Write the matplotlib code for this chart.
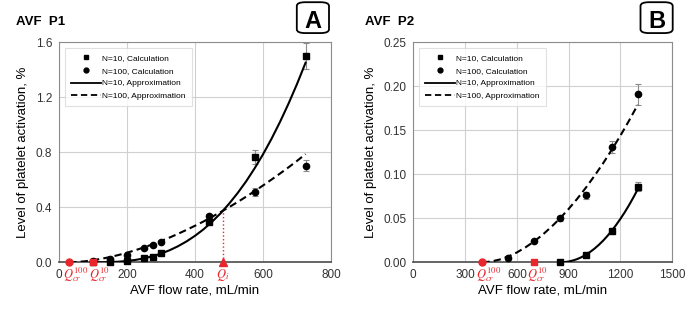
import matplotlib
matplotlib.use("Agg")
import matplotlib.pyplot as plt
import matplotlib.transforms as mtransforms
from matplotlib.patches import FancyBboxPatch

plt.rcParams["font.family"] = ["Liberation Sans", "DejaVu Sans"]
plt.rcParams["mathtext.fontset"] = "stix"

RED = "#e8262b"

# ---- Panel A (AVF P1) ----
a_q = [100, 150, 200, 250, 275, 300, 440, 575, 725]
a_n10 = [0.0, 0.0, 0.009, 0.029, 0.036, 0.068, 0.29, 0.768, 1.50]
a_n10_err = [0.0, 0.0, 0.004, 0.005, 0.005, 0.006, 0.015, 0.05, 0.095]
a_n100 = [0.01, 0.026, 0.05, 0.106, 0.124, 0.148, 0.335, 0.509, 0.703]
a_n100_err = [0.003, 0.004, 0.005, 0.006, 0.006, 0.007, 0.015, 0.03, 0.04]

# approximation curves
a_fit10_q = [100, 125, 150, 175, 200, 225, 250, 275, 300, 325, 350, 375, 400,
             425, 450, 475, 500, 525, 550, 575, 600, 625, 650, 675, 700, 725]
a_fit10 = [0.0, 0.0002, 0.0014, 0.0043, 0.0094, 0.0174, 0.0287, 0.0438, 0.0633,
           0.0875, 0.117, 0.152, 0.193, 0.240, 0.295, 0.356, 0.426, 0.503, 0.588,
           0.683, 0.786, 0.899, 1.022, 1.155, 1.298, 1.452]
a_fit100_q = [30, 50, 75, 100, 125, 150, 175, 200, 225, 250, 275, 300, 325, 350,
              375, 400, 425, 450, 475, 500, 525, 550, 575, 600, 625, 650, 675, 700, 725]
a_fit100 = [0.0, 0.0018, 0.0071, 0.015, 0.0257, 0.0383, 0.053, 0.070, 0.0883,
            0.1087, 0.1308, 0.155, 0.180, 0.207, 0.236, 0.266, 0.297, 0.331, 0.365,
            0.401, 0.438, 0.477, 0.517, 0.559, 0.602, 0.646, 0.691, 0.738, 0.787]
a_qcr100, a_qcr10 = 30, 100
a_qi, a_qi_level = 482, 0.375

# ---- Panel B (AVF P2) ----
b_q100 = [550, 700, 850, 1000, 1150, 1300]
b_n100 = [0.005, 0.024, 0.05, 0.076, 0.131, 0.191]
b_n100_err = [0.001, 0.001, 0.003, 0.004, 0.007, 0.012]
b_q10 = [850, 1000, 1150, 1300]
b_n10 = [0.0, 0.008, 0.036, 0.086]
b_n10_err = [0.0, 0.001, 0.002, 0.005]

b_fit100_q = [400, 450, 500, 550, 600, 650, 700, 750, 800, 850, 900, 950, 1000,
              1050, 1100, 1150, 1200, 1250, 1300]
b_fit100 = [0.0, 0.0009, 0.0031, 0.0066, 0.0112, 0.0170, 0.0237, 0.0315, 0.0403,
            0.050, 0.0607, 0.0723, 0.0849, 0.0984, 0.1127, 0.128, 0.1441, 0.1611, 0.179]
b_fit10_q = [850, 875, 900, 925, 950, 975, 1000, 1025, 1050, 1075, 1100, 1125,
             1150, 1175, 1200, 1225, 1250, 1275, 1300]
b_fit10 = [0.0, 0.0002, 0.0009, 0.0021, 0.0037, 0.0059, 0.0086, 0.0119, 0.0156,
           0.0199, 0.0247, 0.0301, 0.036, 0.0425, 0.0495, 0.0570, 0.0651, 0.0738, 0.083]
b_qcr100, b_qcr10 = 400, 700

fig = plt.figure(figsize=(7, 3.15), dpi=100)
axA = fig.add_axes([0.0843, 0.1673, 0.3887, 0.6984])
axB = fig.add_axes([0.5904, 0.1673, 0.3700, 0.6984])


def style(ax):
    ax.grid(True, color="#d0d0d0", linewidth=0.8)
    ax.set_axisbelow(True)
    for s in ("top", "right", "left"):
        ax.spines[s].set_color("#8c8c8c")
        ax.spines[s].set_linewidth(0.8)
    ax.spines["bottom"].set_color("#595959")
    ax.spines["bottom"].set_linewidth(1.3)
    ax.tick_params(length=0, labelsize=8.5, pad=5, colors="#333333")
    ax.set_xlabel("AVF flow rate, mL/min", fontsize=9.5, labelpad=2)
    ax.set_ylabel("Level of platelet activation, %", fontsize=9.5, labelpad=4)


def draw(ax, q10, n10, e10, q100, n100, e100, fq10, f10, fq100, f100):
    ebkw = dict(fmt="none", ecolor="#8c8c8c", elinewidth=0.8, capsize=2, capthick=0.8)
    ax.errorbar(q10, n10, yerr=e10, **ebkw)
    ax.errorbar(q100, n100, yerr=e100, **ebkw)
    ax.plot(fq10, f10, color="black", lw=1.5, zorder=3)
    ax.plot(fq100, f100, color="black", lw=1.5, ls=(0, (3.5, 2)), zorder=3)
    ax.plot(q10, n10, "s", color="black", ms=4.5, zorder=4, clip_on=False)
    ax.plot(q100, n100, "o", color="black", ms=4.5, zorder=4, clip_on=False)
    # legend handles
    ax.plot([], [], "s", color="black", ms=3.5, label="N=10, Calculation")
    ax.plot([], [], "o", color="black", ms=3.5, label="N=100, Calculation")
    ax.plot([], [], color="black", lw=1.3, label="N=10, Approximation")
    ax.plot([], [], color="black", lw=1.3, ls=(0, (3.5, 2)), label="N=100, Approximation")
    leg = ax.legend(loc="upper left", bbox_to_anchor=(0.012, 0.985), fontsize=6.0,
                    frameon=True, fancybox=False, handlelength=3.6, handletextpad=0.2,
                    borderpad=0.7, labelspacing=0.6, borderaxespad=0.3)
    leg.get_frame().set_edgecolor("#d9d9d9")
    leg.get_frame().set_linewidth(0.8)


def qlabel(ax, x, text, ha="center"):
    trans = mtransforms.blended_transform_factory(ax.transData, ax.transAxes)
    ax.text(x, -0.058, text, transform=trans, color=RED, fontsize=9,
            ha=ha, va="center")


def panel_tag(x0, letter):
    box = FancyBboxPatch((x0, 0.895), 0.046, 0.098, boxstyle="round,pad=0,rounding_size=0.012",
                         transform=fig.transFigure, facecolor="white", edgecolor="black",
                         linewidth=1.3)
    fig.patches.append(box)
    fig.text(x0 + 0.023, 0.912, letter, fontsize=17, fontweight="bold",
             ha="center", va="baseline")


# Panel A
style(axA)
draw(axA, a_q, a_n10, a_n10_err, a_q, a_n100, a_n100_err,
     a_fit10_q, a_fit10, a_fit100_q, a_fit100)
axA.set_xlim(0, 800)
axA.set_ylim(0, 1.6)
axA.set_xticks([0, 200, 400, 600, 800])
axA.set_yticks([0.0, 0.4, 0.8, 1.2, 1.6])
axA.set_yticklabels(["0.0", "0.4", "0.8", "1.2", "1.6"])
axA.plot([a_qi, a_qi], [0, a_qi_level], color=RED, lw=1.0, ls=":", zorder=3)
axA.plot([a_qcr100], [0], "o", color=RED, ms=5, zorder=5, clip_on=False)
axA.plot([a_qcr10], [0], "s", color=RED, ms=5, zorder=5, clip_on=False)
axA.plot([a_qi], [0], "^", color=RED, ms=5.5, zorder=5, clip_on=False)
qlabel(axA, 13, r"$Q_{cr}^{100}$", ha="left")
qlabel(axA, 88, r"$Q_{cr}^{10}$", ha="left")
qlabel(axA, a_qi, r"$Q_{i}$")
axA.yaxis.set_label_coords(-0.11, 0.5)

# Panel B
style(axB)
draw(axB, b_q10, b_n10, b_n10_err, b_q100, b_n100, b_n100_err,
     b_fit10_q, b_fit10, b_fit100_q, b_fit100)
axB.set_xlim(0, 1500)
axB.set_ylim(0, 0.25)
axB.set_xticks([0, 300, 600, 900, 1200, 1500])
axB.set_yticks([0.0, 0.05, 0.10, 0.15, 0.20, 0.25])
axB.set_yticklabels(["0.00", "0.05", "0.10", "0.15", "0.20", "0.25"])
axB.plot([b_qcr100], [0], "o", color=RED, ms=5, zorder=5, clip_on=False)
axB.plot([b_qcr10], [0], "s", color=RED, ms=5, zorder=5, clip_on=False)
qlabel(axB, 438, r"$Q_{cr}^{100}$")
qlabel(axB, 719, r"$Q_{cr}^{10}$")
axB.yaxis.set_label_coords(-0.14, 0.5)

fig.text(0.023, 0.93, "AVF  P1", fontsize=9.5, fontweight="bold", ha="left", va="center")
fig.text(0.521, 0.93, "AVF  P2", fontsize=9.5, fontweight="bold", ha="left", va="center")
panel_tag(0.424, "A")
panel_tag(0.915, "B")

fig.savefig("out.png", dpi=100)
